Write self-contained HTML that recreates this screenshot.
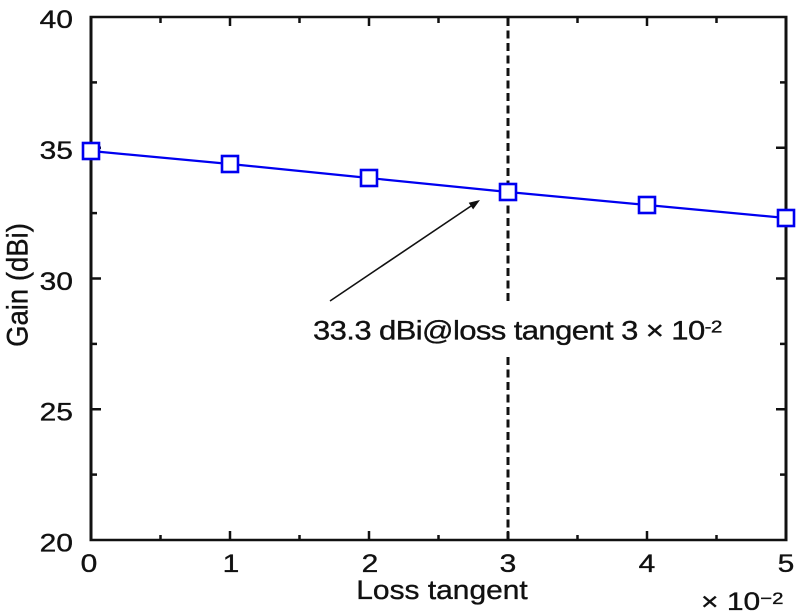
<!DOCTYPE html>
<html>
<head>
<meta charset="utf-8">
<style>
  html, body { margin: 0; padding: 0; background: #fff; }
  svg { display: block; }
  text { font-family: "Liberation Sans", Arial, sans-serif; fill: #111; stroke: #111; stroke-width: 0.35; }
</style>
</head>
<body>
<svg width="800" height="616" viewBox="0 0 800 616" xmlns="http://www.w3.org/2000/svg">
  <rect x="0" y="0" width="800" height="616" fill="#fff"/>

  <!-- dashed vertical line at x=3 -->
  <line x1="508" y1="18" x2="508" y2="305" stroke="#111" stroke-width="3" stroke-dasharray="8,4.5"/>
  <line x1="508" y1="357" x2="508" y2="539" stroke="#111" stroke-width="3" stroke-dasharray="8,4.5"/>

  <!-- ticks -->
  <g stroke="#111" stroke-width="2.5">
    <line x1="230" y1="540" x2="230" y2="531"/>
    <line x1="369" y1="540" x2="369" y2="531"/>
    <line x1="508" y1="540" x2="508" y2="531"/>
    <line x1="647" y1="540" x2="647" y2="531"/>
    <line x1="160.5" y1="540" x2="160.5" y2="535"/>
    <line x1="299.5" y1="540" x2="299.5" y2="535"/>
    <line x1="438.5" y1="540" x2="438.5" y2="535"/>
    <line x1="577.5" y1="540" x2="577.5" y2="535"/>
    <line x1="716.5" y1="540" x2="716.5" y2="535"/>
    <line x1="230" y1="17" x2="230" y2="26"/>
    <line x1="369" y1="17" x2="369" y2="26"/>
    <line x1="508" y1="17" x2="508" y2="26"/>
    <line x1="647" y1="17" x2="647" y2="26"/>
    <line x1="160.5" y1="17" x2="160.5" y2="23"/>
    <line x1="299.5" y1="17" x2="299.5" y2="23"/>
    <line x1="438.5" y1="17" x2="438.5" y2="23"/>
    <line x1="577.5" y1="17" x2="577.5" y2="23"/>
    <line x1="716.5" y1="17" x2="716.5" y2="23"/>
    <line x1="91" y1="147.75" x2="101" y2="147.75"/>
    <line x1="91" y1="278.5" x2="101" y2="278.5"/>
    <line x1="91" y1="409.25" x2="101" y2="409.25"/>
    <line x1="91" y1="82.4" x2="97" y2="82.4"/>
    <line x1="91" y1="213.1" x2="97" y2="213.1"/>
    <line x1="91" y1="343.9" x2="97" y2="343.9"/>
    <line x1="91" y1="474.6" x2="97" y2="474.6"/>
    <line x1="786" y1="147.75" x2="776" y2="147.75"/>
    <line x1="786" y1="278.5" x2="776" y2="278.5"/>
    <line x1="786" y1="409.25" x2="776" y2="409.25"/>
    <line x1="786" y1="82.4" x2="780" y2="82.4"/>
    <line x1="786" y1="213.1" x2="780" y2="213.1"/>
    <line x1="786" y1="343.9" x2="780" y2="343.9"/>
    <line x1="786" y1="474.6" x2="780" y2="474.6"/>
  </g>

  <!-- axes box -->
  <line x1="89.5" y1="17" x2="787.5" y2="17" stroke="#111" stroke-width="2.6"/>
  <line x1="89.5" y1="540" x2="787.5" y2="540" stroke="#111" stroke-width="2.6"/>
  <line x1="91" y1="17" x2="91" y2="540" stroke="#111" stroke-width="3"/>
  <line x1="786" y1="17" x2="786" y2="540" stroke="#111" stroke-width="3"/>

  <!-- arrow -->
  <line x1="330" y1="301" x2="474" y2="204" stroke="#111" stroke-width="1.6"/>
  <polygon points="480,200 473.1,209.4 468.7,202.8" fill="#111"/>

  <!-- annotation text -->
  <text font-size="27" transform="translate(313,339.5) scale(1.15,1)" textLength="356" lengthAdjust="spacing">33.3 dBi@loss tangent 3 × 10<tspan font-size="18" dy="-7">-2</tspan></text>

  <!-- data line -->
  <polyline points="91,151 230,164 369,178 508,192 647,205 786,218" fill="none" stroke="#0000f0" stroke-width="2.2"/>
  <g fill="#fff" stroke="#0000f0" stroke-width="2.6">
    <rect x="83" y="143" width="16" height="16"/>
    <rect x="222" y="156" width="16" height="16"/>
    <rect x="361" y="170" width="16" height="16"/>
    <rect x="500" y="184" width="16" height="16"/>
    <rect x="639" y="197" width="16" height="16"/>
    <rect x="778" y="210" width="16" height="16"/>
  </g>

  <!-- y tick labels -->
  <g font-size="25" text-anchor="end">
    <text transform="translate(73,28) scale(1.2,1)">40</text>
    <text transform="translate(73,159) scale(1.2,1)">35</text>
    <text transform="translate(73,290) scale(1.2,1)">30</text>
    <text transform="translate(73,420.5) scale(1.2,1)">25</text>
    <text transform="translate(73,551.5) scale(1.2,1)">20</text>
  </g>

  <!-- x tick labels -->
  <g font-size="25" text-anchor="middle">
    <text transform="translate(89,572) scale(1.2,1)">0</text>
    <text transform="translate(231,572) scale(1.2,1)">1</text>
    <text transform="translate(370,572) scale(1.2,1)">2</text>
    <text transform="translate(508,572) scale(1.2,1)">3</text>
    <text transform="translate(647,572) scale(1.2,1)">4</text>
    <text transform="translate(786,572) scale(1.2,1)">5</text>
  </g>

  <!-- axis labels -->
  <text font-size="26.5" text-anchor="middle" transform="translate(442,599) scale(1.13,1)">Loss tangent</text>
  <text font-size="27.5" text-anchor="middle" transform="translate(27.5,285) scale(1.08,1) rotate(-90)">Gain (dBi)</text>

  <!-- exponent -->
  <text font-size="25" transform="translate(701,610) scale(1.2,1)">× 10<tspan font-size="17" dy="-6">−2</tspan></text>
</svg>
</body>
</html>
